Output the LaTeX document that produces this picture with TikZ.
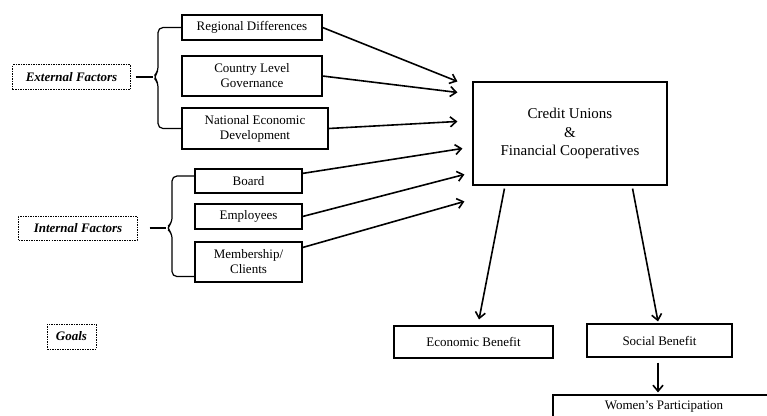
\documentclass[tikz,border=0pt]{standalone}
\usepackage{fontspec}
\setmainfont{Liberation Serif}
\usetikzlibrary{arrows.meta, calc}

\begin{document}
\begin{tikzpicture}[x=1bp, y=-1bp, >={Straight Barb[length=6bp,width=10bp]},
  factor/.style={draw, line width=1.1bp, align=center, inner sep=0pt, font=\fontsize{13bp}{15bp}\selectfont},
  dashbox/.style={draw, line width=1bp, dash pattern=on 1.5bp off 1bp, inner sep=0pt, font=\fontsize{13bp}{15bp}\selectfont\bfseries\itshape},
  arr/.style={->, line width=1.6bp},
  bracket/.style={line width=1.2bp, rounded corners=5bp}]
        \useasboundingbox (0,0) rectangle (767,415);
        % factor groups
        \node[dashbox, minimum width=117bp, minimum height=25bp] (ext) at (71.5,77) {External Factors};
        \node[dashbox, minimum width=118bp, minimum height=24bp] (int) at (78,228) {Internal Factors};
        \node[dashbox, minimum width=49bp, minimum height=25bp] (goals) at (71.5,336.5) {Goals};
        \node[factor, minimum width=140bp, minimum height=25bp] (reg) at (252,27.5) {Regional Differences};
        \node[factor, minimum width=140bp, minimum height=40bp] (gov) at (252,76) {Country Level\\Governance};
        \node[factor, minimum width=146bp, minimum height=41bp] (dev) at (255,128.5) {National Economic\\Development};
        \node[factor, minimum width=107bp, minimum height=24bp] (board) at (248.5,181) {Board};
        \node[factor, minimum width=107bp, minimum height=25bp] (staff) at (248.5,216.5) {Employees};
        \node[factor, minimum width=107bp, minimum height=40bp] (members) at (248.5,262) {Membership/\\Clients};
        % outcomes
        \node[factor, minimum width=194bp, minimum height=103bp, font=\fontsize{15bp}{18.5bp}\selectfont] (cu) at (570,133.5) {Credit Unions\\\&\\Financial Cooperatives};
        \node[factor, minimum width=159bp, minimum height=32bp] (econ) at (473.5,342) {Economic Benefit};
        \node[factor, minimum width=145bp, minimum height=33bp] (social) at (659.5,340.5) {Social Benefit};
        \node[factor, minimum width=222bp, minimum height=24bp] (women) at (664,407) {Women’s Participation};
        % braces
        \coordinate (exttip) at (153,77);
        \coordinate (inttip) at (166,228);
        \draw[bracket] (reg.west) -| (158,72) -- (exttip) -- (158,82) |- (dev.west);
        \draw[bracket] ([xshift=5bp]ext.east) -- (exttip);
        \draw[bracket] ([yshift=5bp]board.west) -| (172,223) -- (inttip) -- (172,233) |- ([yshift=6bp]members.south west);
        \draw[bracket] ([xshift=12bp]int.east) -- (inttip);
        % arrows into the centre
        \coordinate (in1) at ($(cu.north west)+(-15,0)$);
        \coordinate (in2) at ($(cu.north west)+(-15,11)$);
        \coordinate (in3) at ($(cu.north west)+(-15,40)$);
        \coordinate (in4) at ($(cu.north west)+(-10,67)$);
        \coordinate (in5) at ($(cu.north west)+(-8,93)$);
        \coordinate (in6) at ($(cu.north west)+(-8,120)$);
        \draw[arr] (reg.east) -- (in1);
        \draw[arr] (gov.east) -- (in2);
        \draw[arr] (dev.east) -- (in3);
        \draw[arr] (board.8) -- (in4);
        \draw[arr] (staff.east) -- (in5);
        \draw[arr] (members.15) -- (in6);
        % benefits
        \draw[arr] ($(cu.south west)+(32,3)$) -- ($(econ.north)+(5.5,-6)$);
        \draw[arr] ($(cu.south east)+(-35,3)$) -- ($(social.north)+(-1.5,-2)$);
        \draw[arr] ($(social.south)+(-1.5,5)$) -- ($(social.south |- women.north)+(-1.5,-2)$);
\end{tikzpicture}
\end{document}
